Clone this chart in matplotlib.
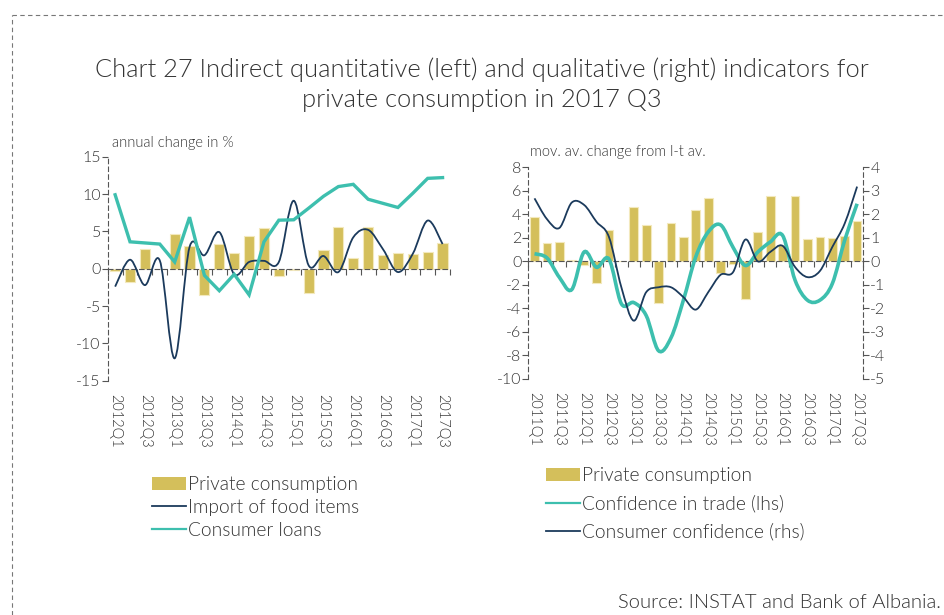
import numpy as np
import matplotlib
matplotlib.use("Agg")
import matplotlib.pyplot as plt
from matplotlib.path import Path
from matplotlib.patches import PathPatch, Patch
from matplotlib.lines import Line2D

plt.rcParams['font.family'] = ['Lato', 'DejaVu Sans']
plt.rcParams['font.weight'] = 300

# ---- data ----
quarters = ['2011Q1', '2011Q2', '2011Q3', '2011Q4',
            '2012Q1', '2012Q2', '2012Q3', '2012Q4',
            '2013Q1', '2013Q2', '2013Q3', '2013Q4',
            '2014Q1', '2014Q2', '2014Q3', '2014Q4',
            '2015Q1', '2015Q2', '2015Q3', '2015Q4',
            '2016Q1', '2016Q2', '2016Q3', '2016Q4',
            '2017Q1', '2017Q2', '2017Q3']

private_consumption = [3.8, 1.6, 1.65, 0.1,
                       -0.3, -1.8, 2.7, 0.0,
                       4.6, 3.1, -3.5, 3.3,
                       2.1, 4.4, 5.4, -1.0,
                       -0.2, -3.2, 2.5, 5.6,
                       1.4, 5.6, 1.9, 2.1,
                       2.0, 2.2, 3.4]

# left panel: 2012Q1 - 2017Q3
left_quarters = quarters[4:]
left_pc = private_consumption[4:]
import_food = [-2.4, 1.2, -2.2, 1.1, -12.0, 2.9, 1.8, 4.9, -0.75, 0.9, 1.05, 0.9,
               9.1, 0.45, 1.7, -0.45, 4.2, 5.2, 2.6, -0.45, 2.0, 6.45, 3.3]
consumer_loans = [9.9, 3.6, 3.45, 3.3, 0.9, 6.9, -0.9, -2.95, -0.75, -3.5, 3.6, 6.5,
                  6.55, 8.1, 9.7, 11.0, 11.3, 9.3, 8.75, 8.2, 10.1, 12.1, 12.2]

# right panel: 2011Q1 - 2017Q3
conf_trade = [0.65, 0.3, -1.35, -2.4, 0.8, -0.5, 0.2, -3.6, -3.5, -4.6, -7.6, -6.5,
              -3.3, 0.4, 2.5, 3.1, 1.2, -0.35, 0.8, 1.65, 2.2, -1.6, -3.3, -3.3,
              -1.9, 1.8, 4.9]
cons_conf = [2.68, 1.8, 1.42, 2.5, 2.4, 1.68, 1.04, -1.1, -2.52, -1.31, -1.1, -1.1,
             -1.52, -2.05, -1.31, -0.57, -0.46, 0.93, 0.0, 0.4, 0.66, -0.24, -0.67,
             -0.41, 0.61, 1.61, 3.18]

left_yticks = [-15, -10, -5, 0, 5, 10, 15]
right_yticks_l = [-10, -8, -6, -4, -2, 0, 2, 4, 6, 8]
right_yticks_r = [-5, -4, -3, -2, -1, 0, 1, 2, 3, 4]

GOLD = '#d4bf5b'
TEAL = '#3dbfae'
NAVY = '#1b3a5c'
TXT = '#333333'
AX = '#555555'
DASH = (0, (4, 3))


def smooth_path(xs, ys):
    # Excel-style smoothed line through the points (cubic Bezier segments)
    pts = np.column_stack([xs, ys]).astype(float)
    n = len(pts)
    verts = [pts[0]]
    codes = [Path.MOVETO]
    for i in range(n - 1):
        p0 = pts[max(i - 1, 0)]
        p1 = pts[i]
        p2 = pts[i + 1]
        p3 = pts[min(i + 2, n - 1)]
        verts += [p1 + (p2 - p0) / 6, p2 - (p3 - p1) / 6, p2]
        codes += [Path.CURVE4] * 3
    return Path(verts, codes)


def style_axis(ax, labels, step_labels):
    n = len(labels)
    x = np.arange(n)
    ax.set_xlim(-0.5, n - 0.5)
    for s in ['top', 'right']:
        ax.spines[s].set_visible(False)
    ax.spines['left'].set_linestyle(DASH)
    ax.spines['left'].set_color(AX)
    ax.spines['bottom'].set_position(('data', 0))
    ax.spines['bottom'].set_linestyle(DASH)
    ax.spines['bottom'].set_color(AX)
    ax.set_xticks(np.arange(n + 1) - 0.5)
    ax.tick_params(axis='x', direction='out', length=4, color=AX, labelbottom=False)
    ax.tick_params(axis='y', direction='out', length=4, color=AX, labelcolor=TXT,
                   labelsize=11.5, pad=1)
    tr = ax.get_xaxis_transform()
    for i in range(0, n, step_labels):
        ax.text(x[i], -0.06, labels[i], transform=tr, rotation=270, ha='center',
                va='top', fontsize=10.5, color=TXT)


fig = plt.figure(figsize=(9.45, 6.15), dpi=100)

# dashed frame
fig.add_artist(Line2D([12 / 945, 1.0], [1 - 15 / 615, 1 - 15 / 615],
                      transform=fig.transFigure, color='#777777', lw=0.8, ls=DASH))
fig.add_artist(Line2D([12 / 945, 12 / 945], [0, 1 - 15 / 615],
                      transform=fig.transFigure, color='#777777', lw=0.8, ls=DASH))

fig.text(482 / 945, 1 - 85 / 615,
         'Chart 27 Indirect quantitative (left) and qualitative (right) indicators for\n'
         'private consumption in 2017 Q3',
         ha='center', va='center', fontsize=18.3, color=TXT, linespacing=1.3)

# ---- left panel ----
axl = fig.add_axes([107.7 / 945, 1 - 380.7 / 615, 342.3 / 945, 224 / 615])
xl = np.arange(len(left_quarters))
axl.bar(xl, left_pc, width=0.68, color=GOLD, edgecolor='#f3e9bd', linewidth=0.8, zorder=2)
axl.add_patch(PathPatch(smooth_path(xl, import_food), fill=False, edgecolor=NAVY,
                        lw=1.3, zorder=3))
axl.plot(xl, consumer_loans, color=TEAL, lw=2.4, zorder=4, solid_joinstyle='miter')
axl.set_ylim(-15, 15)
axl.set_yticks(left_yticks)
axl.set_yticklabels([str(v) for v in left_yticks])
style_axis(axl, left_quarters, 2)
axl.text(112 / 945, 1 - 143 / 615, 'annual change in %', transform=fig.transFigure,
         ha='left', va='center', fontsize=10.5, color=TXT)

fig.legend(handles=[Patch(facecolor=GOLD, edgecolor='none', label='Private consumption'),
                    Line2D([], [], color=NAVY, lw=1.3, label='Import of food items'),
                    Line2D([], [], color=TEAL, lw=1.6, label='Consumer loans')],
           loc='upper left', bbox_to_anchor=(152 / 945, 1 - 476 / 615), frameon=False,
           fontsize=13.8, labelcolor=TXT, handlelength=1.8, handletextpad=0.1,
           labelspacing=0.3, borderpad=0, borderaxespad=0)

# ---- right panel ----
axr = fig.add_axes([528.3 / 945, 1 - 379 / 615, 335 / 945, 211.7 / 615])
xr = np.arange(len(quarters))
axr.bar(xr, private_consumption, width=0.7, color=GOLD, edgecolor='#f3e9bd',
        linewidth=0.8, zorder=2)
axr.add_patch(PathPatch(smooth_path(xr, conf_trade), fill=False, edgecolor=TEAL,
                        lw=2.6, zorder=3))
axr.set_ylim(-10, 8)
axr.set_yticks(right_yticks_l)
axr.set_yticklabels([str(v) for v in right_yticks_l])
style_axis(axr, quarters, 2)

axr2 = axr.twinx()
axr2.add_patch(PathPatch(smooth_path(xr, cons_conf), fill=False, edgecolor=NAVY,
                         lw=1.3, zorder=3))
axr2.set_ylim(-5, 4)
axr2.set_yticks(right_yticks_r)
axr2.set_yticklabels([str(v) for v in right_yticks_r])
for s in ['top', 'left', 'bottom']:
    axr2.spines[s].set_visible(False)
axr2.spines['right'].set_linestyle(DASH)
axr2.spines['right'].set_color(AX)
axr2.tick_params(axis='y', direction='out', length=4, color=AX, labelcolor=TXT,
                 labelsize=11.5, pad=1)
axr.text(530 / 945, 1 - 152 / 615, 'mov. av. change from l-t av.',
         transform=fig.transFigure, ha='left', va='center', fontsize=10.5, color=TXT)

fig.legend(handles=[Patch(facecolor=GOLD, edgecolor='none', label='Private consumption'),
                    Line2D([], [], color=TEAL, lw=1.6, label='Confidence in trade (lhs)'),
                    Line2D([], [], color=NAVY, lw=1.3, label='Consumer confidence (rhs)')],
           loc='upper left', bbox_to_anchor=(546 / 945, 1 - 467 / 615), frameon=False,
           fontsize=13.8, labelcolor=TXT, handlelength=1.8, handletextpad=0.1,
           labelspacing=0.55, borderpad=0, borderaxespad=0)

fig.text(941 / 945, 1 - 603 / 615, 'Source: INSTAT and Bank of Albania.',
         ha='right', va='center', fontsize=14.6, color=TXT)

fig.savefig('out.png', dpi=100)
